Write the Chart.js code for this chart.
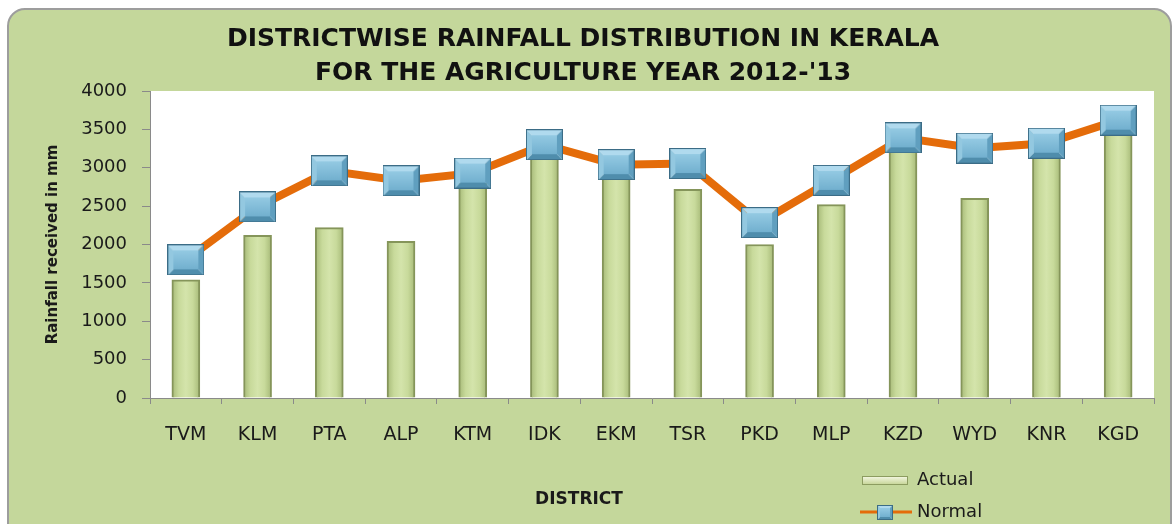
<!DOCTYPE html>
<html>
<head>
<meta charset="utf-8">
<script src="https://cdn.jsdelivr.net/npm/chart.js@4.4.1/dist/chart.umd.min.js"></script>
<style>
  body { margin: 0; background: #ffffff; }
  #wrap { position: relative; width: 1174px; height: 524px; overflow: hidden; }
  #box {
    position: absolute; left: 7px; top: 8px; width: 1161px; height: 540px;
    background: #c4d79b; border: 2px solid #9d9d9d; border-radius: 18px;
  }
  #rainChart { position: absolute; left: 0; top: 0; }
</style>
</head>
<body>
<div id="wrap">
  <div id="box"></div>
  <canvas id="rainChart" width="1174" height="524"></canvas>
</div>
<script>
// Dữ liệu
const districts = ['TVM', 'KLM', 'PTA', 'ALP', 'KTM', 'IDK', 'EKM', 'TSR', 'PKD', 'MLP', 'KZD', 'WYD', 'KNR', 'KGD'];
const actualRain = [1540, 2120, 2220, 2040, 2800, 3150, 2880, 2720, 2000, 2520, 3230, 2600, 3150, 3450];
const normalRain = [1800, 2490, 2960, 2830, 2930, 3300, 3040, 3055, 2285, 2835, 3390, 3255, 3320, 3620];
const yMin = 0, yMax = 4000, yStep = 500;

// Ô vuông xanh có viền nổi (giống Excel)
function makeMarker(w, h) {
    const c = document.createElement('canvas');
    c.width = w; c.height = h;
    const g = c.getContext('2d');
    const b = Math.max(2, Math.round(Math.min(w, h) * 0.2));
    const poly = (color, pts) => {
        g.fillStyle = color;
        g.beginPath();
        g.moveTo(pts[0][0], pts[0][1]);
        pts.slice(1).forEach(p => g.lineTo(p[0], p[1]));
        g.closePath();
        g.fill();
    };
    poly('#b0daee', [[0, 0], [w, 0], [w - b, b], [b, b]]);
    poly('#4f8dac', [[0, h], [w, h], [w - b, h - b], [b, h - b]]);
    poly('#93c8e0', [[0, 0], [b, b], [b, h - b], [0, h]]);
    poly('#609fbf', [[w, 0], [w - b, b], [w - b, h - b], [w, h]]);
    const grad = g.createLinearGradient(0, b, 0, h - b);
    grad.addColorStop(0, '#94cae3');
    grad.addColorStop(1, '#72b0cf');
    g.fillStyle = grad;
    g.fillRect(b, b, w - 2 * b, h - 2 * b);
    g.strokeStyle = '#3b6c86';
    g.lineWidth = 1;
    g.strokeRect(0.5, 0.5, w - 1, h - 1);
    return c;
}

const bigMarker = makeMarker(37, 31);
const smallMarker = makeMarker(16, 15);

// Màu cột có độ chuyển (sáng ở giữa, tối ở hai bên)
function barFill(context) {
    const chart = context.chart;
    const xs = chart.scales.x;
    if (context.type !== 'data' || !xs) return '#c9db9b';
    const x = xs.getPixelForValue(context.dataIndex);
    if (!Number.isFinite(x)) return '#c9db9b';
    const g = chart.ctx.createLinearGradient(x - 14, 0, x + 14, 0);
    g.addColorStop(0, '#a6b977');
    g.addColorStop(0.25, '#c8da9b');
    g.addColorStop(0.5, '#d4e4ab');
    g.addColorStop(0.75, '#c8da9b');
    g.addColorStop(1, '#a6b977');
    return g;
}

// Nền trắng cho vùng vẽ, chữ DISTRICT và chú thích
const extras = {
    id: 'extras',
    beforeDraw(chart) {
        const { ctx, chartArea: a } = chart;
        ctx.save();
        ctx.fillStyle = '#ffffff';
        ctx.fillRect(a.left, a.top, a.right - a.left, a.bottom - a.top);
        ctx.restore();
    },
    afterDraw(chart) {
        const ctx = chart.ctx;
        ctx.save();
        ctx.fillStyle = '#1a1a1a';
        ctx.textBaseline = 'middle';
        ctx.textAlign = 'center';
        ctx.font = 'bold 17px "DejaVu Sans"';
        ctx.fillText('DISTRICT', 579, 500);

        // chú thích: Actual
        const sw = ctx.createLinearGradient(0, 476, 0, 485);
        sw.addColorStop(0, '#f6f8e6');
        sw.addColorStop(1, '#c3d392');
        ctx.fillStyle = sw;
        ctx.fillRect(862, 476, 46, 9);
        ctx.strokeStyle = '#8c9c60';
        ctx.lineWidth = 1;
        ctx.strokeRect(862.5, 476.5, 45, 8);

        // chú thích: Normal
        ctx.strokeStyle = '#e46c0a';
        ctx.lineWidth = 3;
        ctx.beginPath();
        ctx.moveTo(860, 512);
        ctx.lineTo(912, 512);
        ctx.stroke();
        ctx.drawImage(smallMarker, 877, 505);

        ctx.fillStyle = '#1a1a1a';
        ctx.textAlign = 'left';
        ctx.font = '18px "DejaVu Sans"';
        ctx.fillText('Actual', 917, 480);
        ctx.fillText('Normal', 917, 512);
        ctx.restore();
    }
};

const ctx = document.getElementById('rainChart').getContext('2d');

const rainChart = new Chart(ctx, {
    type: 'bar',
    data: {
        labels: districts,
        datasets: [
            {
                type: 'line',
                label: 'Normal',
                data: normalRain,
                borderColor: '#e46c0a',
                borderWidth: 8,
                pointStyle: bigMarker,
                pointRadius: 18,
                tension: 0,
                order: 0
            },
            {
                type: 'bar',
                label: 'Actual',
                data: actualRain,
                backgroundColor: barFill,
                borderColor: '#85955a',
                borderWidth: 2,
                barThickness: 28,
                order: 1
            }
        ]
    },
    options: {
        responsive: false,
        animation: false,
        layout: { autoPadding: false, padding: { left: 12, right: 20, top: 0, bottom: 0 } },
        scales: {
            x: {
                grid: {
                    display: true,
                    drawOnChartArea: false,
                    offset: true,
                    tickLength: 6,
                    color: '#8a8a8a'
                },
                border: { color: '#8a8a8a' },
                ticks: {
                    color: '#1a1a1a',
                    padding: 20,
                    font: { family: '"DejaVu Sans"', size: 19 }
                },
                afterFit(scale) {
                    scale.height = 126;
                    scale.paddingLeft = 0;
                    scale.paddingRight = 0;
                }
            },
            y: {
                min: yMin,
                max: yMax,
                grid: {
                    display: true,
                    drawOnChartArea: false,
                    tickLength: 8,
                    color: '#8a8a8a'
                },
                border: { color: '#8a8a8a' },
                ticks: {
                    stepSize: yStep,
                    color: '#1a1a1a',
                    padding: 15,
                    font: { family: '"DejaVu Sans"', size: 18 },
                    callback: (v) => String(v)
                },
                title: {
                    display: true,
                    text: 'Rainfall received in mm',
                    color: '#1a1a1a',
                    padding: { top: 32, bottom: 0 },
                    font: { family: '"DejaVu Sans"', size: 15, weight: 'bold' }
                },
                afterFit(scale) { scale.width = 138; }
            }
        },
        plugins: {
            legend: { display: false },
            tooltip: { enabled: false },
            title: {
                display: true,
                text: ['DISTRICTWISE RAINFALL DISTRIBUTION IN KERALA', "FOR THE AGRICULTURE YEAR 2012-'13"],
                color: '#111111',
                padding: { top: 22.5, bottom: 0.5 },
                font: { family: '"DejaVu Sans"', size: 25, weight: 'bold', lineHeight: '34px' }
            }
        }
    },
    plugins: [extras]
});
</script>
</body>
</html>
